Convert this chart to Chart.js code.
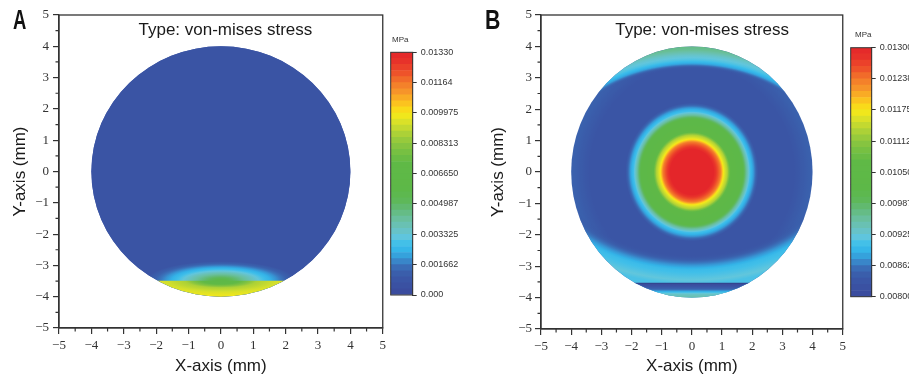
<!DOCTYPE html>
<html>
<head>
<meta charset="utf-8">
<script src="https://cdn.jsdelivr.net/npm/chart.js@4.4.0/dist/chart.umd.min.js"></script>
<style>
  html, body { margin: 0; padding: 0; background: #fff; }
  body { width: 909px; height: 381px; position: relative; overflow: hidden; font-family: 'Liberation Sans', Arial, sans-serif; }
  canvas { position: absolute; top: 0; }
  .panel-letter { position: absolute; top: 6px; font: bold 28px/28px 'Liberation Sans', Arial, sans-serif; color: #111; transform-origin: 0 0; }
  .unit { position: absolute; font-size: 8px; line-height: 9px; color: #333; }
</style>
</head>
<body>
<canvas id="plot-a" width="390" height="381" style="left:0;width:390px;height:381px"></canvas>
<canvas id="cbar-a" width="75" height="381" style="left:385px;width:75px;height:381px"></canvas>
<canvas id="plot-b" width="395" height="381" style="left:455px;width:395px;height:381px"></canvas>
<canvas id="cbar-b" width="64" height="381" style="left:845px;width:64px;height:381px"></canvas>
<div class="panel-letter" style="left:13px;transform:scaleX(0.66)">A</div>
<div class="panel-letter" style="left:485px;transform:scaleX(0.76)">B</div>
<div class="unit" style="left:392px;top:35px">MPa</div>
<div class="unit" style="left:855px;top:30px">MPa</div>
<script>
/* ── Data ──────────────────────────────────────────────────────── */

const axisTicks  = [-5, -4, -3, -2, -1, 0, 1, 2, 3, 4, 5];
const diskRadius = 4;   // mm

// colour key (0 = bottom of bar, 1 = top)
const cmapPos = [0, 0.06, 0.10, 0.125, 0.15, 0.18, 0.21, 0.24, 0.275, 0.315, 0.35, 0.385, 0.43,
                 0.54, 0.59, 0.625, 0.665, 0.705, 0.74, 0.77, 0.80, 0.84, 0.875, 0.915, 0.955, 1];
const cmapHex = ['#3a4a9c', '#3a55a5', '#3a62ae', '#3a76bd', '#3795d4', '#33b3e8', '#40bfe9', '#62c6dc',
                 '#69c2bd', '#69bf9c', '#63ba7a', '#5eb85a', '#5db848', '#5fb946', '#78c042', '#8dc63f',
                 '#aed236', '#d3df2b', '#f2e81b', '#fcd519', '#fbb623', '#f6922a', '#f3772a', '#ee512a',
                 '#e8352a', '#e4262a'];
const cbarLevels = 40;

// Panel A
const cbarA_ticks  = [0, 0.0016625, 0.003325, 0.0049875, 0.00665, 0.0083125, 0.009975, 0.0116375, 0.0133];
const cbarA_labels = ['0.000', '0.001662', '0.003325', '0.004987', '0.006650', '0.008313', '0.009975', '0.01164', '0.01330'];
const a_baseStress = 0.00075;
const a_chordY     = -3.49;
const a_haloSize   = [2.3, 0.62];
const a_haloRho    = [0, 0.25, 0.45, 0.6, 0.8, 1];
const a_haloStress = [0.0061, 0.0046, 0.0035, 0.0027, 0.0017, 0.00075];
const a_capSize    = [2.6, 0.52];
const a_capRho     = [0, 0.15, 0.42, 0.7, 1];
const a_capStress  = [0.0060, 0.0067, 0.0088, 0.0095, 0.0099];

// Panel B
const cbarB_ticks  = [0.008, 0.008625, 0.00925, 0.009875, 0.0105, 0.011125, 0.01175, 0.012375, 0.013];
const cbarB_labels = ['0.008000', '0.008625', '0.009250', '0.009875', '0.01050', '0.01112', '0.01175', '0.01238', '0.01300'];
const b_ringR      = [0, 0.72, 0.86, 0.95, 1.05, 1.18, 1.32, 1.68, 1.8, 1.93, 2.05, 2.2, 3.4, 3.7, 4];
const b_ringStress = [0.0130, 0.0130, 0.0126, 0.01235, 0.0117, 0.0113, 0.01035, 0.0102, 0.0096, 0.00905, 0.00875, 0.0083, 0.0083, 0.0084, 0.0085];
const b_topRimSize   = [5.6, 4];
const b_topRimRho    = [0, 0.82, 0.86, 0.89, 0.93, 0.97, 1];
const b_topRimStress = [0.0083, 0.0083, 0.0088, 0.0091, 0.0093, 0.0096, 0.0097];
const b_topRimAlpha  = [0, 0, 1, 1, 1, 1, 1];
const b_botRimSize   = [6.5, 4];
const b_botRimRho    = [0, 0.66, 0.72, 0.78, 0.86, 0.89, 1];
const b_botRimStress = [0.0083, 0.0083, 0.0086, 0.0090, 0.0092, 0.0091, 0.0091];
const b_botRimAlpha  = [0, 0, 1, 1, 1, 1, 1];
const b_stripY       = [-3.55, -3.62, -3.75, -3.88, -4.0];
const b_stripStress  = [0.00795, 0.0082, 0.0086, 0.0093, 0.0095];

const rangeA = [cbarA_ticks[0], cbarA_ticks[cbarA_ticks.length - 1]];
const rangeB = [cbarB_ticks[0], cbarB_ticks[cbarB_ticks.length - 1]];

/* ── Colour helpers ────────────────────────────────────────────── */

const cmapRgb = cmapHex.map(h => [1, 3, 5].map(i => parseInt(h.slice(i, i + 2), 16)));

function colourAt(t, alpha = 1) {
  t = Math.min(1, Math.max(0, t));
  let i = 0;
  while (i < cmapPos.length - 2 && t > cmapPos[i + 1]) i++;
  const f = (t - cmapPos[i]) / (cmapPos[i + 1] - cmapPos[i]);
  const c = cmapRgb[i].map((v, k) => Math.round(v + f * (cmapRgb[i + 1][k] - v)));
  return `rgba(${c[0]},${c[1]},${c[2]},${alpha})`;
}

const stressColour = (v, range, a = 1) => colourAt((v - range[0]) / (range[1] - range[0]), a);

// colour stops for a canvas gradient, sub-divided so the colours follow the key
function gradientStops(pos, stress, alpha, range) {
  const stops = [], n = 8;
  const p0 = pos[0], span = pos[pos.length - 1] - p0;
  for (let i = 0; i < pos.length; i++) {
    const steps = i < pos.length - 1 ? n : 1;
    for (let k = 0; k < steps; k++) {
      const f = k / n;
      const j = Math.min(i + 1, pos.length - 1);
      const p = pos[i] + f * (pos[j] - pos[i]);
      const v = stress[i] + f * (stress[j] - stress[i]);
      const a = alpha ? alpha[i] + f * (alpha[j] - alpha[i]) : 1;
      stops.push([(p - p0) / span, stressColour(v, range, a)]);
    }
  }
  return stops;
}

function ellipseGradient(ctx, cx, cy, rx, ry, stops) {
  ctx.save();
  ctx.translate(cx, cy);
  ctx.scale(rx, ry);
  const g = ctx.createRadialGradient(0, 0, 0, 0, 0, 1);
  stops.forEach(([o, c]) => g.addColorStop(o, c));
  ctx.fillStyle = g;
  ctx.fillRect(-20, -20, 40, 40);
  ctx.restore();
}

/* ── Stress fields, drawn through the chart scales ─────────────── */

function clipDisk(chart) {
  const { ctx, scales: { x, y } } = chart;
  const cx = x.getPixelForValue(0), cy = y.getPixelForValue(0);
  ctx.beginPath();
  ctx.ellipse(cx, cy, x.getPixelForValue(diskRadius) - cx, cy - y.getPixelForValue(diskRadius), 0, 0, Math.PI * 2);
  ctx.clip();
}

function semiAxes(chart, size) {
  const { x, y } = chart.scales;
  return [x.getPixelForValue(size[0]) - x.getPixelForValue(0), y.getPixelForValue(0) - y.getPixelForValue(size[1])];
}

function drawFieldA(chart) {
  const { ctx, chartArea: ca, scales: { x, y } } = chart;
  ctx.save();
  clipDisk(chart);
  ctx.fillStyle = stressColour(a_baseStress, rangeA);
  ctx.fillRect(ca.left, ca.top, ca.width, ca.height);

  const cx = x.getPixelForValue(0), chord = y.getPixelForValue(a_chordY);
  const [hx, hy] = semiAxes(chart, a_haloSize);
  ellipseGradient(ctx, cx, chord, hx, hy, gradientStops(a_haloRho, a_haloStress, null, rangeA));

  ctx.beginPath();
  ctx.rect(ca.left, chord, ca.width, ca.bottom - chord);
  ctx.clip();
  const [kx, ky] = semiAxes(chart, a_capSize);
  ellipseGradient(ctx, cx, chord, kx, ky, gradientStops(a_capRho, a_capStress, null, rangeA));
  ctx.restore();
}

function drawFieldB(chart) {
  const { ctx, chartArea: ca, scales: { x, y } } = chart;
  const cx = x.getPixelForValue(0), cy = y.getPixelForValue(0);
  ctx.save();
  clipDisk(chart);
  const [rx, ry] = semiAxes(chart, [diskRadius, diskRadius]);
  ellipseGradient(ctx, cx, cy, rx, ry, gradientStops(b_ringR, b_ringStress, null, rangeB));

  // top rim band
  ctx.save();
  ctx.beginPath(); ctx.rect(ca.left, ca.top, ca.width, cy - ca.top); ctx.clip();
  const [tx, ty] = semiAxes(chart, b_topRimSize);
  ellipseGradient(ctx, cx, cy, tx, ty, gradientStops(b_topRimRho, b_topRimStress, b_topRimAlpha, rangeB));
  ctx.restore();

  // bottom rim band
  ctx.save();
  ctx.beginPath(); ctx.rect(ca.left, cy, ca.width, ca.bottom - cy); ctx.clip();
  const [bx, by] = semiAxes(chart, b_botRimSize);
  ellipseGradient(ctx, cx, cy, bx, by, gradientStops(b_botRimRho, b_botRimStress, b_botRimAlpha, rangeB));
  ctx.restore();

  // strip below the contact line
  const y0 = y.getPixelForValue(b_stripY[0]), y1 = y.getPixelForValue(b_stripY[b_stripY.length - 1]);
  const lg = ctx.createLinearGradient(0, y0, 0, y1);
  gradientStops(b_stripY.map(v => -v), b_stripStress, null, rangeB).forEach(([o, c]) => lg.addColorStop(o, c));
  ctx.fillStyle = lg;
  ctx.fillRect(ca.left, y0, ca.width, ca.bottom - y0);
  ctx.strokeStyle = '#33458f';
  ctx.lineWidth = 1.2;
  ctx.beginPath(); ctx.moveTo(ca.left, y0); ctx.lineTo(ca.right, y0); ctx.stroke();
  ctx.restore();
}

/* ── Panels ────────────────────────────────────────────────────── */

const INK = '#333';
const tickFont  = { family: "'Liberation Serif', 'Times New Roman', serif", size: 13 };
const titleFont = { family: "'Liberation Sans', Arial, sans-serif", size: 17 };
const fmt = v => (v < 0 ? '\u2212' + Math.abs(v) : String(v));

const panelDecor = {
  id: 'panelDecor',
  beforeDatasetsDraw(chart, args, opts) { opts.field(chart); },
  afterDraw(chart, args, opts) {
    const { ctx, chartArea: ca, scales: { x, y } } = chart;
    ctx.save();
    ctx.strokeStyle = INK;
    ctx.lineWidth = 1.3;
    ctx.strokeRect(ca.left, ca.top, ca.width, ca.height);
    // minor ticks half-way between the labelled ones
    ctx.lineWidth = 1.2;
    ctx.beginPath();
    for (let i = 0; i < axisTicks.length - 1; i++) {
      const m = (axisTicks[i] + axisTicks[i + 1]) / 2;
      const mx = x.getPixelForValue(m), my = y.getPixelForValue(m);
      ctx.moveTo(mx, ca.bottom); ctx.lineTo(mx, ca.bottom + 3.5);
      ctx.moveTo(ca.left, my);   ctx.lineTo(ca.left - 3.5, my);
    }
    ctx.stroke();
    ctx.fillStyle = '#1a1a1a';
    ctx.font = `${titleFont.size}px ${titleFont.family}`;
    ctx.textAlign = 'center';
    ctx.fillText('Type: von-mises stress', x.getPixelForValue(opts.titleX), ca.top + 20);
    ctx.restore();
  },
};

function makePanel(id, o) {
  return new Chart(document.getElementById(id), {
    type: 'scatter',
    data: { datasets: [{ data: [] }] },
    options: {
      responsive: false,
      animation: false,
      layout: { padding: { top: 15, right: o.padRight, left: 0, bottom: 0 } },
      plugins: {
        legend: { display: false },
        tooltip: { enabled: false },
        panelDecor: { field: o.field, titleX: o.titleX },
      },
      scales: {
        x: {
          type: 'linear', min: -5, max: 5,
          afterBuildTicks: s => { s.ticks = axisTicks.map(v => ({ value: v })); },
          afterFit: s => { s.height = o.xHeight; },
          ticks: { callback: fmt, font: tickFont, color: INK, padding: 4, maxRotation: 0, autoSkip: false },
          grid: { drawOnChartArea: false, tickLength: 6, color: INK, lineWidth: 1.2 },
          border: { color: INK, width: 1.3 },
          title: { display: true, text: 'X-axis (mm)', font: titleFont, color: '#1a1a1a', padding: { top: 0, bottom: 4 } },
        },
        y: {
          type: 'linear', min: -5, max: 5,
          afterBuildTicks: s => { s.ticks = axisTicks.map(v => ({ value: v })); },
          afterFit: s => { s.width = o.yWidth; },
          ticks: { callback: fmt, font: tickFont, color: INK, padding: o.yLabelPad, autoSkip: false },
          grid: { drawOnChartArea: false, tickLength: 6, color: INK, lineWidth: 1.2 },
          border: { color: INK, width: 1.3 },
          title: { display: true, text: 'Y-axis (mm)', font: titleFont, color: '#1a1a1a', padding: { top: o.yTitlePad, bottom: 0 } },
        },
      },
    },
    plugins: [panelDecor],
  });
}

const barOutline = {
  id: 'barOutline',
  afterDraw(chart) {
    const { ctx, chartArea: ca } = chart;
    ctx.save();
    ctx.strokeStyle = INK;
    ctx.lineWidth = 1;
    ctx.strokeRect(ca.left, ca.top, ca.width, ca.height);
    ctx.restore();
  },
};

function makeColourBar(id, ticks, labels, o) {
  const lo = ticks[0], hi = ticks[ticks.length - 1], step = (hi - lo) / cbarLevels;
  const datasets = [];
  for (let i = 0; i < cbarLevels; i++) {
    datasets.push({
      data: [[lo + i * step, lo + (i + 1) * step]],
      backgroundColor: colourAt((i + 0.5) / cbarLevels),
      grouped: false, barPercentage: 1, categoryPercentage: 1, borderWidth: 0,
    });
  }
  return new Chart(document.getElementById(id), {
    type: 'bar',
    data: { labels: [''], datasets },
    options: {
      responsive: false,
      animation: false,
      layout: { padding: { left: o.left, top: o.top, bottom: o.bottom, right: 0 } },
      plugins: { legend: { display: false }, tooltip: { enabled: false } },
      scales: {
        x: { display: false },
        y: {
          position: 'right', min: lo, max: hi,
          afterBuildTicks: s => { s.ticks = ticks.map(v => ({ value: v })); },
          afterFit: s => { s.width = o.axisWidth; },
          ticks: { callback: (v, i) => labels[i], font: { family: "'Liberation Sans', Arial, sans-serif", size: 9 }, color: INK, padding: 4, autoSkip: false },
          grid: { drawOnChartArea: false, tickLength: 4, color: INK },
          border: { color: INK },
        },
      },
    },
    plugins: [barOutline],
  });
}

makePanel('plot-a', { field: drawFieldA, titleX: 0.14, padRight: 6, xHeight: 53, yWidth: 59, yLabelPad: 4, yTitlePad: 10 });
makePanel('plot-b', { field: drawFieldB, titleX: 0.34, padRight: 5, xHeight: 52, yWidth: 86, yLabelPad: 3, yTitlePad: 33 });
makeColourBar('cbar-a', cbarA_ticks, cbarA_labels, { left: 5.7, top: 52.3, bottom: 86, axisWidth: 47.3 });
makeColourBar('cbar-b', cbarB_ticks, cbarB_labels, { left: 5.7, top: 47.7, bottom: 84.3, axisWidth: 37.3 });
</script>
</body>
</html>
